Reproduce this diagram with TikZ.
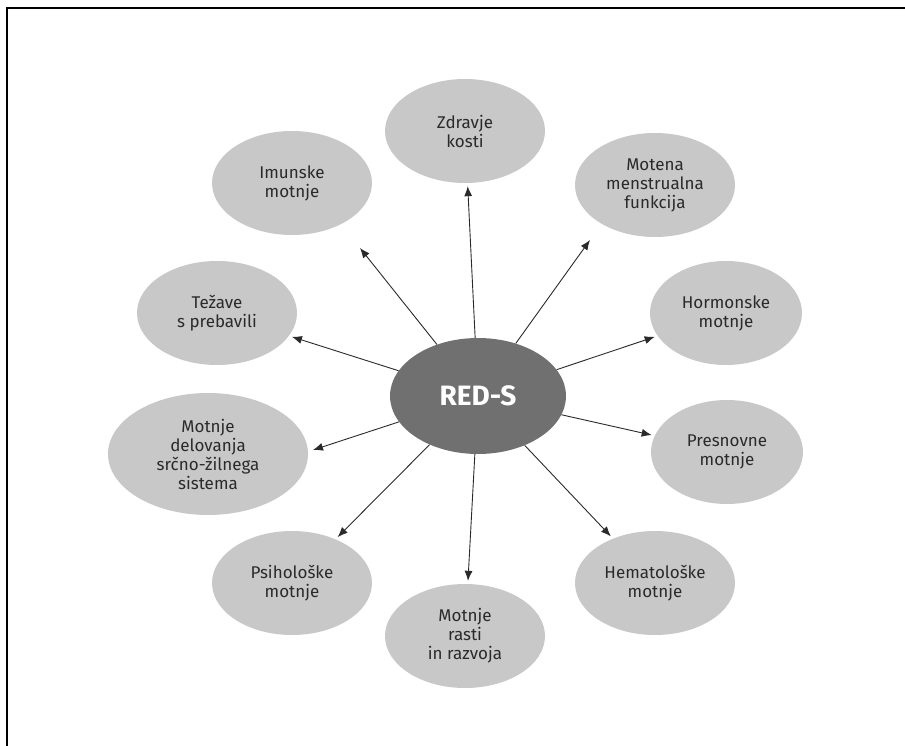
\documentclass[tikz,border=0pt]{standalone}
\usepackage{fontspec}
\setmainfont{Fira Sans}
\usetikzlibrary{shapes.geometric,arrows.meta}
\definecolor{bubble}{HTML}{C8C8C8}
\definecolor{hub}{HTML}{707070}
\definecolor{ink}{HTML}{2A2A2A}
\begin{document}
\begin{tikzpicture}[x=1pt,y=-1pt,
  bubblestyle/.style={ellipse, fill=bubble, inner sep=0pt, minimum width=160pt, minimum height=104pt,
    align=center, font=\fontsize{17}{19}\selectfont, text=ink},
  hubstyle/.style={ellipse, fill=hub, inner sep=0pt, minimum width=176pt, minimum height=116pt,
    font=\fontsize{28}{30}\selectfont\bfseries, text=white},
  link/.style={draw=ink, line width=0.9pt, -{Latex[length=10pt,width=8pt]}, shorten >=3pt},
  freelink/.style={draw=ink, line width=0.9pt, -{Latex[length=10pt,width=8pt]}}]
\useasboundingbox (0,0) rectangle (905,746);
% frame
\draw[line width=1.6pt] (7,746) -- (7,8) -- (905,8);

% central hub
\node[hubstyle] (reds) at (478,396) {RED-S};

% surrounding consequences
\node[bubblestyle] (kosti) at (465,131) {Zdravje\\kosti};
\node[bubblestyle] (imun) at (292,183) {Imunske\\motnje};
\node[bubblestyle] (mens) at (655,185) {Motena\\menstrualna\\funkcija};
\node[bubblestyle, minimum width=152pt] (horm) at (726,313) {Hormonske\\motnje};
\node[bubblestyle] (preb) at (217,313) {Težave\\s prebavili};
\node[bubblestyle, minimum width=200pt, minimum height=122pt] (srce) at (208,454) {Motnje\\delovanja\\srčno-žilnega\\sistema};
\node[bubblestyle, minimum width=152pt] (pres) at (727,452) {Presnovne\\motnje};
\node[bubblestyle] (psih) at (292,583) {Psihološke\\motnje};
\node[bubblestyle] (rast) at (465,636) {Motnje\\rasti\\in razvoja};
\node[bubblestyle] (hema) at (655,583) {Hematološke\\motnje};

% arrow tips that stop short of their bubbles
\coordinate (imuntip) at (360,248);
\coordinate (menstip) at (590,240);
\coordinate (srcetip) at (313,450);

% connectors
\foreach \t in {kosti,horm,preb,pres,psih,rast,hema}
  \draw[link] (reds) -- (\t);
\foreach \t in {imuntip,menstip,srcetip}
  \draw[freelink] (reds) -- (\t);
\end{tikzpicture}
\end{document}
